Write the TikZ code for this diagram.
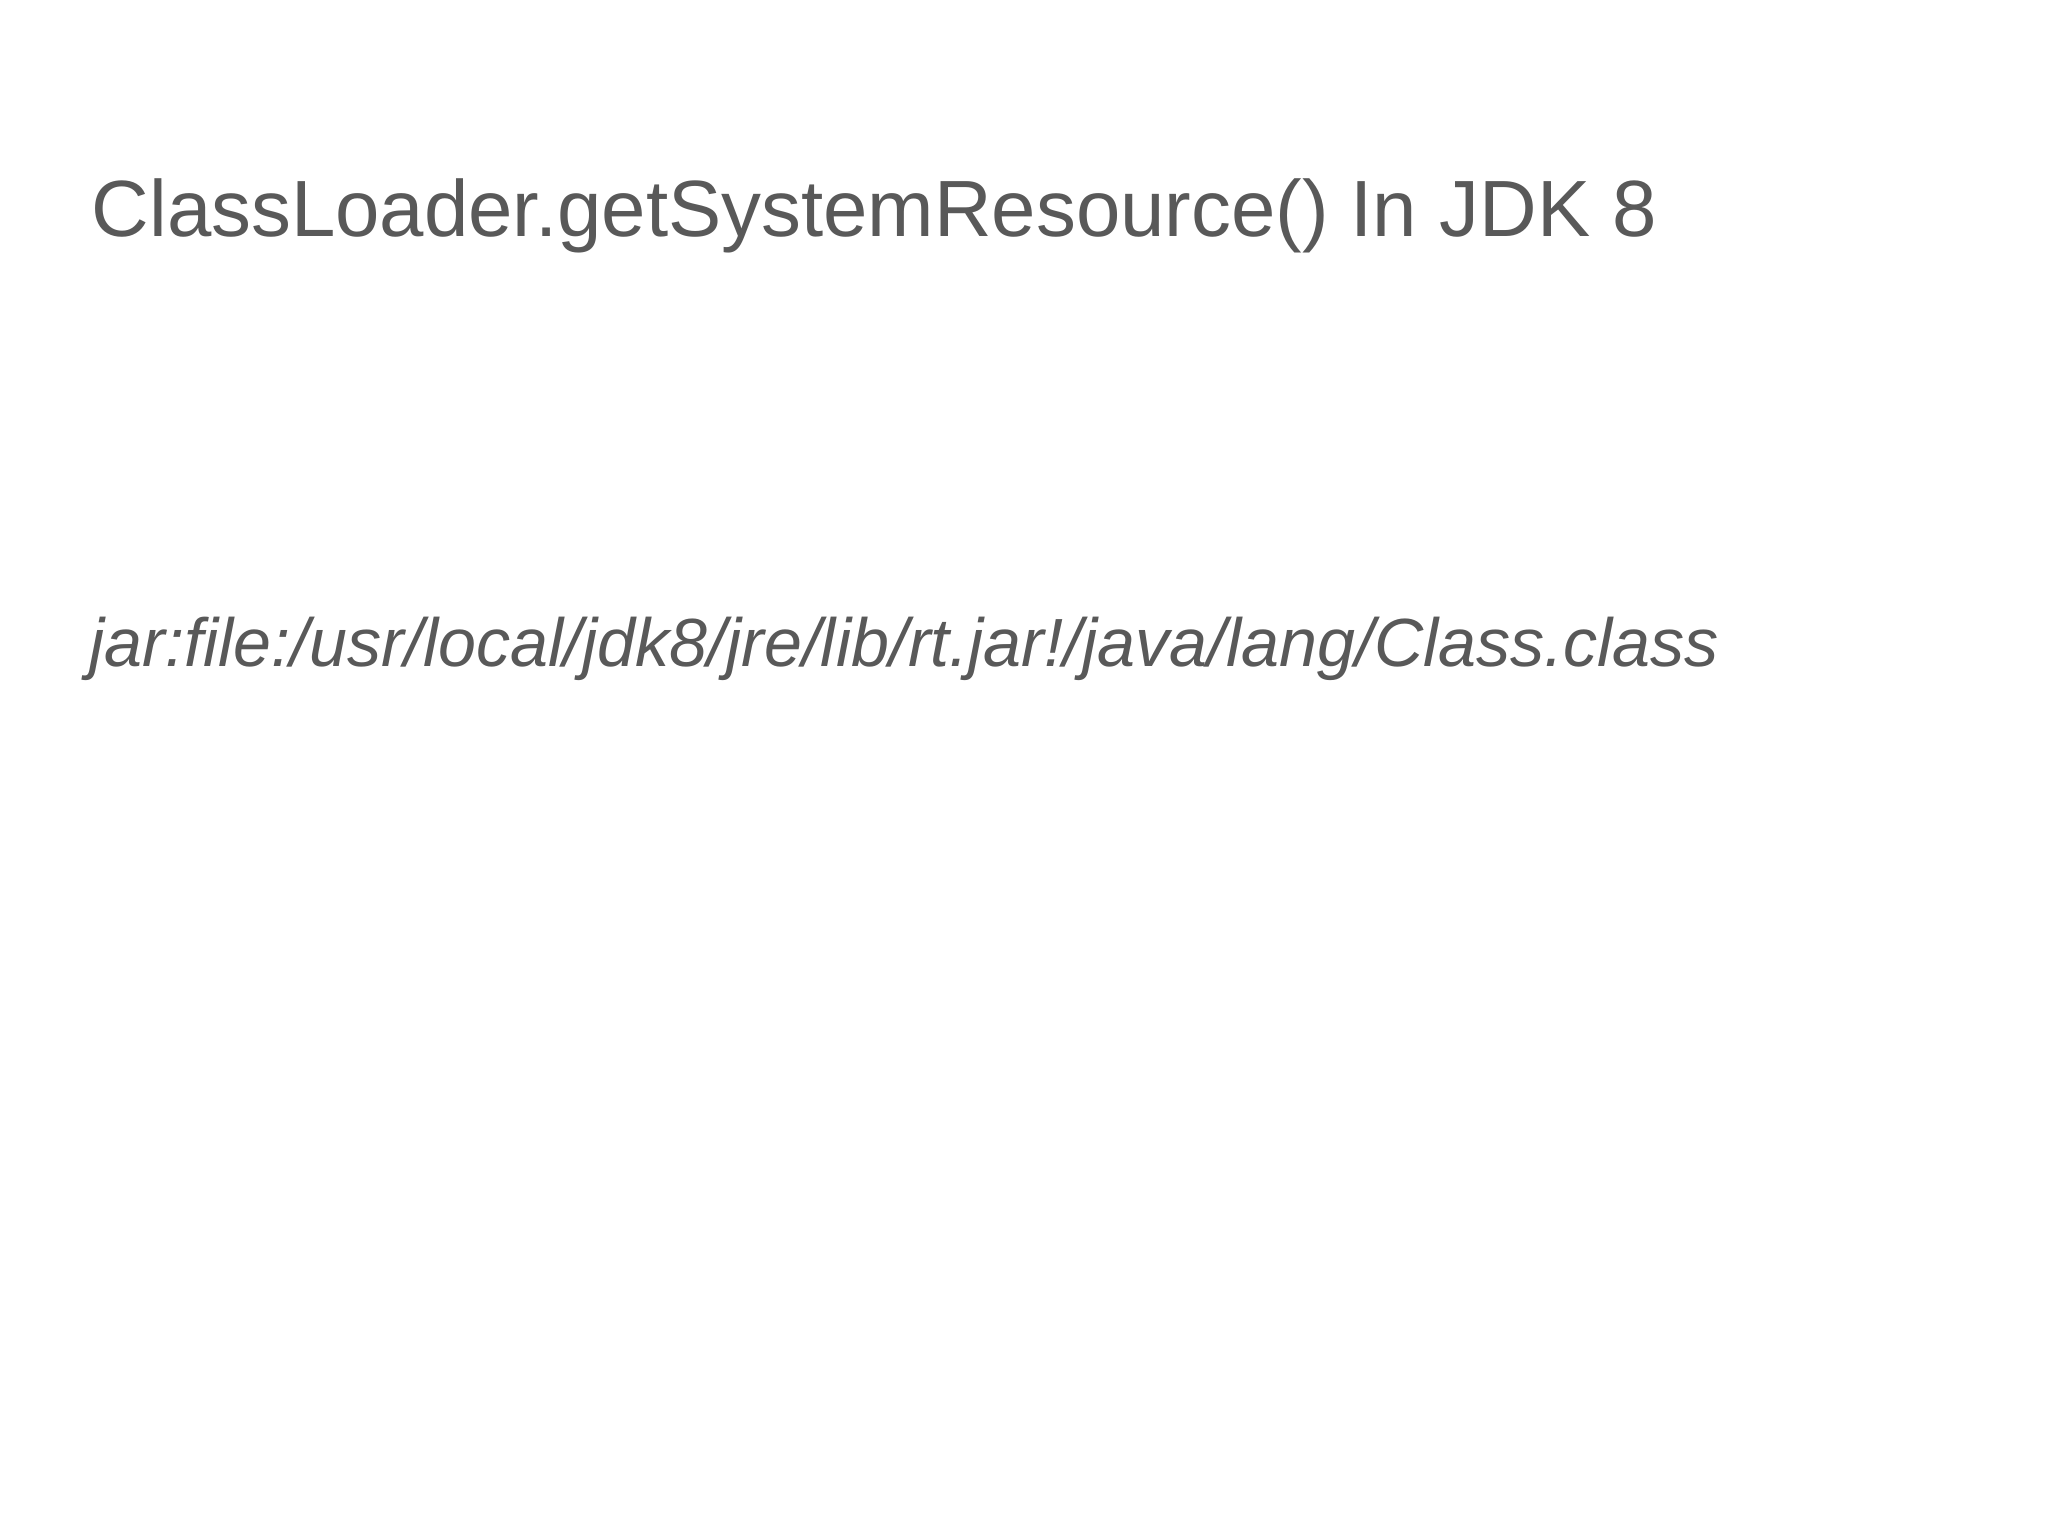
\documentclass[tikz,border=0pt]{standalone}
\usepackage{fontspec}
\setmainfont{Liberation Sans}
\definecolor{txt}{HTML}{595959}
\begin{document}
\begin{tikzpicture}[x=1cm,y=1cm,lbl/.style={anchor=base west,inner sep=0pt,text=txt}]
\useasboundingbox (0,0) rectangle (20.48,15.36);
\node[lbl,font=\fontsize{22.7}{27}\selectfont] (title) at (0.91,12.99) {ClassLoader.getSystemResource() In JDK 8};
\node[lbl,font=\fontsize{19.4}{23}\selectfont\itshape] (url) at (0.89,8.69) {jar:file:/usr/local/jdk8/jre/lib/rt.jar!/java/lang/Class.class};
\end{tikzpicture}
\end{document}
